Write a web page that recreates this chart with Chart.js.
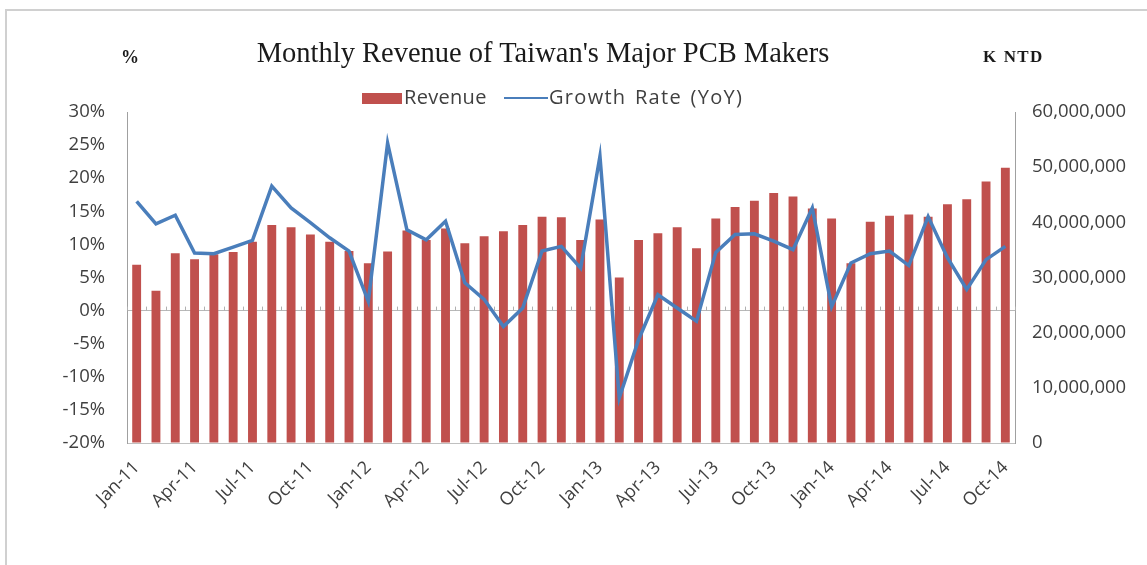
<!DOCTYPE html>
<html>
<head>
<meta charset="utf-8">
<script src="https://cdn.jsdelivr.net/npm/chart.js@4/dist/chart.umd.min.js"></script>
<style>
  html, body { margin: 0; padding: 0; background: #fff; }
  #wrap { position: relative; width: 1147px; height: 565px; overflow: hidden; background: #fff; }
  #frame { position: absolute; left: 5px; top: 9px; width: 1300px; height: 700px; border: 2px solid #d0d0d0; box-sizing: border-box; }
  canvas { position: absolute; left: 0; top: 0; }
  .txt { position: absolute; white-space: nowrap; color: #1a1a1a; }
  #title { left: 0; width: 1086px; top: 37px; text-align: center; font-family: "Liberation Serif", serif; font-size: 28.5px; line-height: 32px; }
  #pct { left: 121px; top: 47px; font-family: "Liberation Serif", serif; font-weight: bold; font-size: 18px; }
  #kntd { left: 983px; top: 47px; font-family: "Liberation Serif", serif; font-weight: bold; font-size: 17px; letter-spacing: 1.2px; word-spacing: 1px; }
  #legend { position: absolute; left: 0; top: 86px; height: 26px; width: 1147px; font-family: "Open Sans", sans-serif; font-size: 20px; color: #404040; }
  .lg { position: absolute; }
</style>
</head>
<body>
<div id="wrap">
  <div id="frame"></div>
  <canvas id="c" width="1147" height="565"></canvas>
  <div class="txt" id="title">Monthly Revenue of Taiwan's Major PCB Makers</div>
  <div class="txt" id="pct">%</div>
  <div class="txt" id="kntd">K NTD</div>
  <div id="legend">
    <div class="lg" style="left:362px;top:7px;width:40px;height:11px;background:#c0504d;"></div>
    <div class="lg" style="left:404px;top:-2px;line-height:26px;letter-spacing:0.3px;">Revenue</div>
    <div class="lg" style="left:504px;top:11px;width:44px;height:2px;background:#4a7ebb;"></div>
    <div class="lg" style="left:549px;top:-2px;line-height:26px;letter-spacing:1.3px;word-spacing:2px;">Growth Rate (YoY)</div>
  </div>
</div>
<script>
const months = ["Jan-11","Feb-11","Mar-11","Apr-11","May-11","Jun-11","Jul-11","Aug-11","Sep-11","Oct-11","Nov-11","Dec-11",
  "Jan-12","Feb-12","Mar-12","Apr-12","May-12","Jun-12","Jul-12","Aug-12","Sep-12","Oct-12","Nov-12","Dec-12",
  "Jan-13","Feb-13","Mar-13","Apr-13","May-13","Jun-13","Jul-13","Aug-13","Sep-13","Oct-13","Nov-13","Dec-13",
  "Jan-14","Feb-14","Mar-14","Apr-14","May-14","Jun-14","Jul-14","Aug-14","Sep-14","Oct-14"];
const shownLabels = ["Jan-11","Apr-11","Jul-11","Oct-11","Jan-12","Apr-12","Jul-12","Oct-12","Jan-13","Apr-13","Jul-13","Oct-13","Jan-14","Apr-14","Jul-14","Oct-14"];
// Revenue in K NTD
const revenue = [32300000,27600000,34400000,33300000,34200000,34600000,36500000,39500000,39100000,37800000,36500000,34800000,
  32600000,34700000,38500000,36800000,38900000,36200000,37500000,38400000,39500000,41000000,40900000,36800000,
  40500000,30000000,36800000,38000000,39100000,35300000,40700000,42800000,43900000,45300000,44700000,42500000,
  40700000,32600000,40100000,41200000,41400000,41000000,43300000,44200000,47400000,49900000];
// YoY growth, %
const growth = [16.5,13.1,14.4,8.7,8.6,9.6,10.6,18.8,15.5,13.3,11.0,9.0,
  1.4,25.3,12.2,10.7,13.5,4.2,1.7,-2.4,0.4,9.0,9.7,6.4,
  23.3,-13.2,-4.4,2.4,0.4,-1.6,8.8,11.5,11.6,10.5,9.2,15.5,
  0.6,7.2,8.6,9.0,6.8,14.2,8.0,3.2,7.7,9.7];
const leftTicks = [-20,-15,-10,-5,0,5,10,15,20,25,30];
const rightTicks = [0,10000000,20000000,30000000,40000000,50000000,60000000];

const zeroTicks = {
  id: 'zeroTicks',
  afterDatasetsDraw(chart) {
    const x = chart.scales.x, y = chart.scales.y;
    const ctx = chart.ctx;
    const y0 = y.getPixelForValue(0);
    ctx.save();
    ctx.strokeStyle = '#b0b0b0';
    ctx.lineWidth = 1;
    ctx.beginPath();
    for (let i = 0; i <= months.length; i++) {
      let px;
      if (i === 0) px = x.left; else if (i === months.length) px = x.right;
      else px = (x.getPixelForValue(i - 1) + x.getPixelForValue(i)) / 2;
      px = Math.round(px) + 0.5;
      ctx.moveTo(px, y0);
      ctx.lineTo(px, y0 - 4);
    }
    ctx.stroke();
    ctx.restore();
  }
};

const tickFont = { family: "Open Sans", size: 18.5 };
new Chart(document.getElementById('c'), {
  data: {
    labels: months,
    datasets: [
      { type: 'line', label: 'Growth Rate (YoY)', data: growth, yAxisID: 'y', borderColor: '#4a7ebb', borderWidth: 3.5,
        pointRadius: 0, tension: 0, order: 0, fill: false },
      { type: 'bar', label: 'Revenue', data: revenue, yAxisID: 'y1', backgroundColor: '#c0504d',
        barPercentage: 0.46, categoryPercentage: 1, order: 1 }
    ]
  },
  options: {
    responsive: false,
    devicePixelRatio: 1,
    animation: false,
    layout: { padding: { top: 112, left: 0, right: 0, bottom: 0 } },
    plugins: { legend: { display: false }, title: { display: false }, tooltip: { enabled: false } },
    scales: {
      x: {
        offset: true,
        grid: { display: false, drawTicks: false },
        border: { display: true, color: '#c0c0c0' },
        ticks: {
          autoSkip: false, maxRotation: 45, minRotation: 45, padding: 14,
          color: '#404040', font: { family: "Open Sans", size: 18 },
          callback: function(v, i) { return shownLabels.includes(months[i]) ? months[i] : ''; }
        },
        afterFit(s) { s.height = 122; }
      },
      y: {
        position: 'left', min: -20, max: 30,
        afterBuildTicks(s) { s.ticks = leftTicks.map(v => ({ value: v })); },
        grid: { drawTicks: false, color: (c) => (c.tick && c.tick.value === 0) ? '#b8b8b8' : 'rgba(0,0,0,0)' },
        border: { display: true, color: '#a0a0a0' },
        ticks: { padding: 22, color: '#404040', font: tickFont, callback: v => v + '%' },
        afterFit(s) { s.width = 127; }
      },
      y1: {
        position: 'right', min: 0, max: 60000000,
        afterBuildTicks(s) { s.ticks = rightTicks.map(v => ({ value: v })); },
        grid: { drawOnChartArea: false, drawTicks: false },
        border: { display: true, color: '#a0a0a0' },
        ticks: { padding: 17, color: '#404040', font: tickFont, callback: v => v.toLocaleString('en-US') },
        afterFit(s) { s.width = 132; }
      }
    }
  },
  plugins: [zeroTicks]
});
</script>
</body>
</html>
